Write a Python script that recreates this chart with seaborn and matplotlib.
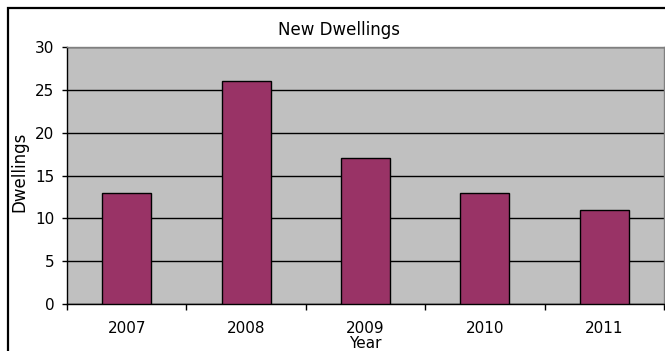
import matplotlib
matplotlib.use("Agg")
import matplotlib.pyplot as plt
import seaborn as sns
import pandas as pd
from matplotlib.patches import Rectangle

years = ["2007", "2008", "2009", "2010", "2011"]
dwellings = [13, 26, 17, 13, 11]

df = pd.DataFrame({"Year": years, "Dwellings": dwellings})

sns.set_style("white")
plt.rcParams["font.family"] = ["DejaVu Sans"]
plt.rcParams["text.color"] = "black"
plt.rcParams["axes.labelcolor"] = "black"
plt.rcParams["xtick.color"] = "black"
plt.rcParams["ytick.color"] = "black"

fig = plt.figure(figsize=(6.65, 3.51), dpi=100)
ax = fig.add_axes([67/665, 1-304/351, (664-67)/665, (304-47)/351])
ax.set_facecolor("#C0C0C0")

sns.barplot(data=df, x="Year", y="Dwellings", color="#993366", saturation=1,
            width=0.41, edgecolor="black", linewidth=1.0, ax=ax, zorder=3)

ax.set_ylim(0, 30)
ax.set_xlim(-0.5, 4.5)
ax.set_yticks([0, 5, 10, 15, 20, 25, 30])
ax.yaxis.grid(True, color="black", linewidth=1.0, zorder=1)
ax.set_axisbelow(True)

# tick marks at category boundaries
ax.set_xticks([i - 0.5 for i in range(len(years) + 1)], minor=False)
ax.set_xticklabels([""] * (len(years) + 1))
ax.set_xticks(range(len(years)), minor=True)
ax.set_xticklabels(years, minor=True)
ax.tick_params(axis="x", which="major", bottom=True, direction="out", length=4.3, width=1, color="black")
ax.tick_params(axis="x", which="minor", bottom=True, length=0, pad=12, labelsize=11)
ax.tick_params(axis="y", left=True, direction="out", length=3.6, width=1, color="black",
               labelsize=11, pad=5.5)

for s in ["top", "right"]:
    ax.spines[s].set_color("#808080")
    ax.spines[s].set_linewidth(1.0)
for s in ["left", "bottom"]:
    ax.spines[s].set_color("black")
    ax.spines[s].set_linewidth(1.0)

ax.set_xlabel("Year", fontsize=11)
ax.xaxis.set_label_coords(0.5, -0.125)
ax.set_ylabel("Dwellings", fontsize=12)
ax.yaxis.set_label_coords(-0.064, 0.514)

fig.text(339/665, 1-30/351, "New Dwellings", ha="center", va="center", fontsize=12)

fig.patches.append(Rectangle((8/665, -0.5), 2.0, 0.5 + (1-8/351), transform=fig.transFigure,
                             fill=False, edgecolor="black", linewidth=1.6))

fig.savefig("out.png", dpi=100)
